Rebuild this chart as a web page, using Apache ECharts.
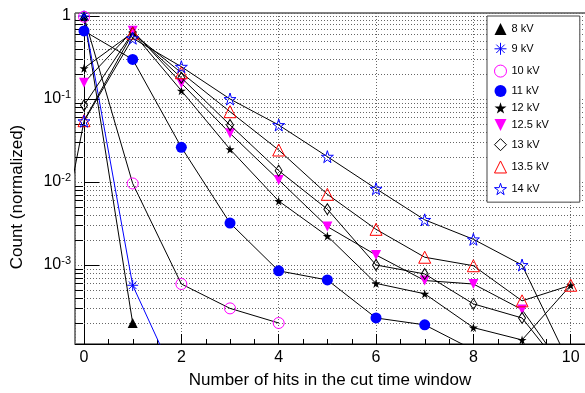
<!DOCTYPE html>
<html><head><meta charset="utf-8">
<script src="https://cdn.jsdelivr.net/npm/echarts@6/dist/echarts.min.js"></script>
<style>html,body{margin:0;padding:0;background:#fff}#c{width:585px;height:393px}</style>
</head><body><div id="c"></div>
<script>
// ---- data ----
const seriesNames = ['8 kV','9 kV','10 kV','11 kV','12 kV','12.5 kV','13 kV','13.5 kV','14 kV'];
// first hit count of each series (values follow at +1 steps)
const seriesStart = [0, 0, 0, 0, 0, 0, 0, 0, -1];
const kv8   = [1.0, 2.0e-4];
const kv9   = [1.0, 5.7e-4, 3.0e-5];
const kv10  = [0.98, 9.6e-3, 5.9e-4, 3.0e-4, 2.0e-4];
const kv11  = [0.66, 0.30, 0.0262, 3.2e-3, 8.5e-4, 6.6e-4, 2.3e-4, 1.9e-4, 9.5e-5];
const kv12  = [0.235, 0.63, 0.126, 0.0248, 5.9e-3, 2.23e-3, 6.0e-4, 4.5e-4, 1.76e-4, 1.25e-4, 5.7e-4];
const kv125 = [0.157, 0.665, 0.155, 0.0386, 0.0106, 2.9e-3, 1.32e-3, 6.5e-4, 5.9e-4, 2.9e-4, 4.3e-5];
const kv13  = [0.084, 0.63, 0.18, 0.0486, 0.0137, 4.7e-3, 1.0e-3, 7.8e-4, 3.4e-4, 2.3e-4, 4.2e-5];
const kv135 = [0.0548, 0.62, 0.207, 0.0703, 0.0243, 7.1e-3, 2.69e-3, 1.24e-3, 9.8e-4, 3.7e-4, 5.7e-4];
const kv14  = [5.5e-5, 0.054, 0.54, 0.245, 0.10, 0.0486, 0.0202, 8.3e-3, 3.5e-3, 2.04e-3, 1.0e-3, 6.0e-5];
const seriesValues = [kv8, kv9, kv10, kv11, kv12, kv125, kv13, kv135, kv14];
// axis ticks
const minorYTicks = [2e-4,3e-4,4e-4,5e-4,6e-4,7e-4,8e-4,9e-4,
                     2e-3,3e-3,4e-3,5e-3,6e-3,7e-3,8e-3,9e-3,
                     2e-2,3e-2,4e-2,5e-2,6e-2,7e-2,8e-2,9e-2,
                     0.2,0.3,0.4,0.5,0.6,0.7,0.8,0.9];
const minorXTicks = [0.5,1,1.5,2.5,3,3.5,4.5,5,5.5,6.5,7,7.5,8.5,9,9.5];
const xMin = -0.185, xMax = 10.355, yMin = 1.117e-4, yMax = 1.087;

// ---- styles ----
const FONT = 'Liberation Sans, Arial, sans-serif';
const STAR = 'path://M50,0L61,35L98,35L68,57L79,91L50,70L21,91L32,57L2,35L39,35Z';
const ASTER = 'path://M0,50L100,50M50,0L50,100M15,15L85,85M15,85L85,15';
const DOWNTRI = 'path://M0,0L100,0L50,100Z';
const markers = [
  {symbol:'triangle', size:10, fill:'#000', stroke:'#000', bw:0, line:'#000'},
  {symbol:ASTER, size:11, fill:'none', stroke:'#0000ff', bw:1, line:'#0000ff'},
  {symbol:'circle', size:11, fill:'none', stroke:'#ff00ff', bw:1, line:'#000'},
  {symbol:'circle', size:11, fill:'#0000ff', stroke:'#0000ff', bw:0, line:'#000'},
  {symbol:STAR, size:9, fill:'#000', stroke:'#000', bw:0, line:'#000'},
  {symbol:DOWNTRI, size:10, fill:'#ff00ff', stroke:'#ff00ff', bw:0, line:'#000'},
  {symbol:'diamond', size:[7,11], fill:'none', stroke:'#000', bw:1, line:'#000'},
  {symbol:'triangle', size:12, fill:'none', stroke:'#ff0000', bw:1, line:'#000'},
  {symbol:STAR, size:12, fill:'none', stroke:'#0000ff', bw:1, line:'#000'}
];

const series = seriesValues.map((vals, i) => {
  const m = markers[i];
  return {
    name: seriesNames[i], type:'line', z: 3 + i,
    data: vals.map((v, k) => [seriesStart[i] + k, v]),
    symbol: m.symbol, symbolSize: m.size, showSymbol:true, showAllSymbol:true,
    lineStyle:{color:m.line, width:1},
    itemStyle:{color:m.fill, borderColor:m.stroke, borderWidth:m.bw},
    emphasis:{disabled:true}, clip:true
  };
});

// minor grid lines and minor ticks (log decades 2..9) drawn through the axis scale
series.push({
  type:'custom', coordinateSystem:'cartesian2d', silent:true, z:1,
  data: minorYTicks.map(v => [0, v]),
  renderItem: function(params, api){
    const cs = params.coordSys;
    const y = Math.round(api.coord([0, api.value(1)])[1]) + 0.5;
    return {type:'group', children:[
      {type:'line', shape:{x1:cs.x, y1:y, x2:cs.x+cs.width, y2:y}, style:{stroke:'#666', lineWidth:1, lineDash:[1,2]}},
      {type:'line', shape:{x1:cs.x, y1:y, x2:cs.x+8, y2:y}, style:{stroke:'#000', lineWidth:1}}
    ]};
  }
});
series.push({
  type:'custom', coordinateSystem:'cartesian2d', silent:true, z:1,
  data: minorXTicks.map(v => [v, yMin]),
  renderItem: function(params, api){
    const cs = params.coordSys;
    const x = Math.round(api.coord([api.value(0), yMin])[0]) + 0.5;
    const yb = cs.y + cs.height;
    return {type:'line', shape:{x1:x, y1:yb, x2:x, y2:yb-5}, style:{stroke:'#000', lineWidth:1}};
  }
});

const chart = echarts.init(document.getElementById('c'), null, {renderer:'canvas'});
chart.setOption({
  animation:false,
  backgroundColor:'#fff',
  textStyle:{fontFamily:FONT},
  grid:{left:75, top:13, width:513, height:331, outerBoundsMode:'none', show:true, borderColor:'#000', borderWidth:1, backgroundColor:'transparent', containLabel:false},
  xAxis:{
    type:'value', min:xMin, max:xMax, splitNumber:5,
    axisLine:{show:true, onZero:false, lineStyle:{color:'#000', width:1}},
    axisTick:{show:true, inside:true, length:10, lineStyle:{color:'#000'}},
    axisLabel:{show:true, margin:6, showMinLabel:false, showMaxLabel:false, color:'#000', fontSize:16, fontFamily:FONT},
    splitLine:{show:true, lineStyle:{color:'#666', type:[1,2], width:1}}
  },
  yAxis:{
    type:'log', logBase:10, min:yMin, max:yMax,
    axisLine:{show:true, lineStyle:{color:'#000', width:1}},
    axisTick:{show:true, inside:true, length:15, lineStyle:{color:'#000'}},
    axisLabel:{
      show:true, margin:4, showMinLabel:false, showMaxLabel:false, color:'#000', fontFamily:FONT,
      formatter: function(v){
        const e = Math.round(Math.log10(v));
        if (e === 0) return '{b|1}';
        return '{b|10}{s|' + e + '}';
      },
      rich:{
        b:{fontSize:16, fontFamily:FONT, color:'#000'},
        s:{fontSize:11, fontFamily:FONT, color:'#000', padding:[0,0,9,0]}
      }
    },
    splitLine:{show:true, lineStyle:{color:'#666', type:[1,2], width:1}}
  },
  legend:{
    show:true, orient:'vertical', left:487, top:16,
    padding:[7, 31, 5, 5], itemGap:5.3, itemWidth:12, itemHeight:12,
    backgroundColor:'#fff', borderColor:'#444', borderWidth:1,
    selectedMode:false,
    textStyle:{fontSize:11, color:'#000', fontFamily:FONT},
    data: seriesNames.map((n, i) => ({
      name:n, icon: markers[i].symbol,
      itemStyle:{color:markers[i].fill, borderColor:markers[i].stroke, borderWidth:markers[i].bw}
    }))
  },
  graphic:[
    {type:'text', x:330, y:380, style:{text:'Number of hits in the cut time window', font:'17px ' + FONT, fill:'#000', align:'center', verticalAlign:'middle'}},
    {type:'text', x:17.5, y:197, rotation:Math.PI/2, style:{text:'Count (normalized)', font:'17px ' + FONT, fill:'#000', align:'center', verticalAlign:'middle'}}
  ],
  series: series
});
</script>
</body></html>
